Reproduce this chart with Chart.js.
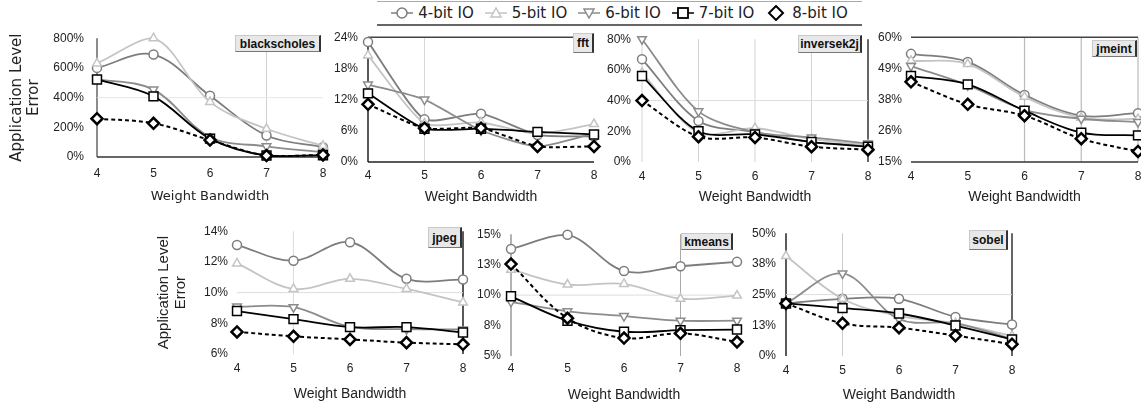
<!DOCTYPE html>
<html>
<head>
<meta charset="utf-8">
<script src="https://cdn.jsdelivr.net/npm/chart.js@4/dist/chart.umd.min.js"></script>
<style>
  html, body { margin: 0; padding: 0; background: #fff; width: 1141px; height: 408px; overflow: hidden; position: relative; }
  canvas { position: absolute; }
  .tag {
    position: absolute; box-sizing: border-box;
    font: bold 12px "Liberation Sans", Arial, sans-serif; color: #111;
    background: #e8e8e8; border: 1px solid #c8c8c8; border-right: 2px solid #333; border-bottom: 1px solid #777;
    display: flex; align-items: center; justify-content: center;
  }
  #legend {
    position: absolute; left: 377px; top: 1px; width: 485px; height: 22px;
    border-top: 1px solid #aaa; border-bottom: 2px solid #666;
    display: flex; align-items: center; justify-content: center; gap: 11px;
    font: 15px "DejaVu Sans", sans-serif; color: #222;
  }
  #legend span { display: flex; align-items: center; gap: 5px; }
</style>
</head>
<body>
<div id="legend"></div>
<script>
// x categories
const bandwidths = ['4', '5', '6', '7', '8'];
const seriesNames = ['4-bit IO', '5-bit IO', '6-bit IO', '7-bit IO', '8-bit IO'];

// application level error (%), one row per IO width (4..8 bit)
const blackscholes = [
  [600, 690, 412, 145, 66],
  [630, 800, 371, 190, 75],
  [525, 454, 134, 72, 31],
  [522, 408, 124, 10, 12],
  [258, 227, 114, 10, 14]
];
const fft = [
  [23.1, 8.2, 9.3, 5.2, 4.9],
  [20.5, 7.4, 7.6, 5.4, 7.3],
  [14.9, 12.0, 6.1, 3.0, 5.5],
  [13.2, 6.4, 6.4, 5.8, 5.3],
  [11.1, 6.5, 6.5, 3.0, 3.0]
];
const inversek2j = [
  [67, 26.7, 19.5, 13, 11],
  [58, 19, 22, 15, 11],
  [80, 33, 19.5, 16, 12],
  [56, 20, 18, 13, 10],
  [40, 16.5, 16, 10, 8]
];
const jmeint = [
  [54, 51.1, 39.2, 31.7, 32.6],
  [51.5, 50.3, 38.5, 31, 30.5],
  [49.6, 42.7, 33.8, 30.6, 29.4],
  [46, 43, 33.5, 25.6, 24.6],
  [43.9, 35.8, 31.7, 23.4, 18.8]
];
const jpeg = [
  [13.1, 12.08, 13.28, 10.9, 10.85],
  [11.9, 10.24, 10.9, 10.24, 9.36],
  [9.09, 9.05, 7.77, 7.62, 7.6],
  [8.8, 8.27, 7.75, 7.75, 7.4],
  [7.44, 7.15, 6.95, 6.74, 6.63]
];
const kmeans = [
  [13.79, 14.95, 11.98, 12.37, 12.73],
  [12.09, 10.87, 10.92, 9.7, 9.96],
  [9.45, 8.67, 8.28, 7.9, 7.9],
  [9.9, 7.9, 6.99, 7.12, 7.17],
  [12.55, 8.1, 6.47, 6.86, 6.16]
];
const sobel = [
  [21.4, 23.3, 23.3, 15.9, 12.8],
  [40.7, 23.3, 16.3, 13.3, 8.2],
  [21.4, 33.6, 15.0, 13.3, 6.9],
  [21.4, 19.5, 17.3, 12.4, 6.7],
  [21.4, 13.3, 11.5, 8.3, 4.8]
];

// y tick labels as printed
const blackscholesTicks = ['0%', '200%', '400%', '600%', '800%'];
const fftTicks = ['0%', '6%', '12%', '18%', '24%'];
const inversek2jTicks = ['0%', '20%', '40%', '60%', '80%'];
const jmeintTicks = ['15%', '26%', '38%', '49%', '60%'];
const jpegTicks = ['6%', '8%', '10%', '12%', '14%'];
const kmeansTicks = ['5%', '8%', '10%', '13%', '15%'];
const sobelTicks = ['0%', '13%', '25%', '38%', '50%'];

// series look
const seriesStyle = [
  { color: '#7d7d7d', point: 'circle', radius: 4.5, width: 1.8, pw: 1.5, rot: 0, dash: [] },
  { color: '#c4c4c4', point: 'triangle', radius: 5, width: 1.8, pw: 1.5, rot: 0, dash: [] },
  { color: '#8c8c8c', point: 'triangle', radius: 5, width: 1.8, pw: 1.5, rot: 180, dash: [] },
  { color: '#000000', point: 'rect', radius: 6.3, width: 1.8, pw: 1.5, rot: 0, dash: [] },
  { color: '#000000', point: 'rectRot', radius: 5.5, width: 2, pw: 2.5, rot: 0, dash: [4, 3] }
];

const PAD_TOP = 10, PAD_RIGHT = 14, X_H = 52;
const tickFont = { family: '"Liberation Sans", Arial, sans-serif', size: 12 };
const arial14 = { family: '"Liberation Sans", Arial, sans-serif', size: 14, lineHeight: 1.2 };

const panels = [
  { name: 'blackscholes', data: blackscholes, ticks: blackscholesTicks, plot: [97, 323, 28, 157],
    yW: 88, yPad: 13, xPad: 9, xGap: 40, tension: 0.35,
    xFont: { family: '"DejaVu Sans", sans-serif', size: 13, lineHeight: 1.2 },
    yTitle: { family: '"DejaVu Sans", sans-serif', size: 15, lineHeight: 1.1 },
    tag: [235, 35, 86, 17],
    frame: { v: [{ at: '4', c: '#666', w: 1.5 }, { at: '7', c: '#d0d0d0', w: 1 }],
             h: [{ at: 0, c: '#333', w: 1.5 }, { at: 400, c: '#e6e6e6', w: 1 }] } },
  { name: 'fft', data: fft, ticks: fftTicks, plot: [368, 594, 30, 162],
    yW: 60, yPad: 10, xPad: 6, xGap: 35, tension: 0.2, xFont: arial14,
    tag: [573, 33, 21, 20],
    frame: { v: [{ at: '4', c: '#222', w: 1.5 }, { at: '5', c: '#d8d8d8', w: 1 }],
             h: [{ at: 0, c: '#222', w: 1.5 }, { at: 24, c: '#444', w: 1.5 }] } },
  { name: 'inversek2j', data: inversek2j, ticks: inversek2jTicks, plot: [642, 868, 31, 162],
    yW: 60, yPad: 11, xPad: 7, xGap: 35, tension: 0.3, xFont: arial14,
    tag: [798, 35, 64, 18],
    frame: { v: [{ at: '4', c: '#d4d4d4', w: 1 }, { at: '5', c: '#d4d4d4', w: 1 }, { at: '6', c: '#d4d4d4', w: 1 },
                 { at: '7', c: '#d4d4d4', w: 1 }, { at: '8', c: '#333', w: 1.5 }],
             h: [{ at: 40, c: '#dcdcdc', w: 1 }] } },
  { name: 'jmeint', data: jmeint, ticks: jmeintTicks, plot: [911, 1138, 31, 162],
    yW: 60, yPad: 9, xPad: 7, xGap: 35, tension: 0.35, xFont: arial14,
    tag: [1092, 40, 45, 17],
    frame: { v: [{ at: '6', c: '#bbb', w: 1.2 }, { at: '7', c: '#bbb', w: 1.2 }, { at: '8', c: '#bbb', w: 1.2 }],
             h: [{ at: 60, c: '#444', w: 1.5 }, { at: 15, c: '#333', w: 1.5 }] } },
  { name: 'jpeg', data: jpeg, ticks: jpegTicks, plot: [237, 463, 225, 354],
    yW: 81, yPad: 9, xPad: 7, xGap: 40, tension: 0.35, xFont: arial14,
    yTitle: { family: '"Liberation Sans", Arial, sans-serif', size: 15, lineHeight: 1.1 },
    tag: [428, 227, 34, 21],
    frame: { v: [{ at: '5', c: '#ddd', w: 1 }, { at: '8', c: '#222', w: 1.5 }],
             h: [{ at: 10, c: '#ddd', w: 1 }] } },
  { name: 'kmeans', data: kmeans, ticks: kmeansTicks, plot: [511, 737, 227, 356],
    yW: 60, yPad: 10, xPad: 5, xGap: 39, tension: 0.35, xFont: arial14,
    tag: [681, 233, 52, 17],
    frame: { v: [{ at: '4', c: '#999', w: 1.5 }, { at: '7', c: '#aaa', w: 1 }],
             h: [{ at: 10, c: '#ddd', w: 1 }] } },
  { name: 'sobel', data: sobel, ticks: sobelTicks, plot: [786, 1012, 226, 356],
    yW: 60, yPad: 10, xPad: 7, xGap: 39, tension: 0.35, xFont: arial14,
    tag: [969, 230, 39, 20],
    frame: { v: [{ at: '4', c: '#222', w: 1.5 }, { at: '5', c: '#ccc', w: 1 }, { at: '8', c: '#333', w: 1.5 }],
             h: [{ at: 25, c: '#ddd', w: 1 }] } }
];

// odd Excel-style borders and grid lines, drawn under the series
const framePlugin = {
  id: 'frame',
  beforeDatasetsDraw(chart, args, opts) {
    const { ctx, chartArea: a, scales: { x, y } } = chart;
    ctx.save();
    (opts.v || []).forEach(l => {
      const px = x.getPixelForValue(bandwidths.indexOf(l.at));
      ctx.strokeStyle = l.c; ctx.lineWidth = l.w;
      ctx.beginPath(); ctx.moveTo(px, a.top); ctx.lineTo(px, a.bottom); ctx.stroke();
    });
    (opts.h || []).forEach(l => {
      const py = y.getPixelForValue(l.at);
      ctx.strokeStyle = l.c; ctx.lineWidth = l.w;
      ctx.beginPath(); ctx.moveTo(a.left, py); ctx.lineTo(a.right, py); ctx.stroke();
    });
    ctx.restore();
  }
};

function makePanel(p) {
  const [l, r, t, b] = p.plot;
  const canvas = document.createElement('canvas');
  const w = p.yW + (r - l) + PAD_RIGHT;
  const h = PAD_TOP + (b - t) + X_H;
  canvas.width = w; canvas.height = h;
  canvas.style.left = (l - p.yW) + 'px';
  canvas.style.top = (t - PAD_TOP) + 'px';
  canvas.style.width = w + 'px'; canvas.style.height = h + 'px';
  document.body.appendChild(canvas);

  const yMin = parseFloat(p.ticks[0]);
  const yMax = parseFloat(p.ticks[p.ticks.length - 1]);
  const xLh = p.xFont.size * p.xFont.lineHeight;

  new Chart(canvas, {
    type: 'line',
    data: {
      labels: bandwidths,
      datasets: p.data.map((vals, i) => {
        const s = seriesStyle[i];
        return {
          label: seriesNames[i],
          data: vals,
          borderColor: s.color,
          borderWidth: s.width,
          borderDash: s.dash,
          tension: p.tension,
          pointStyle: s.point,
          pointRadius: s.radius,
          pointRotation: s.rot,
          pointBorderWidth: s.pw,
          pointBorderColor: s.color,
          pointBackgroundColor: '#fff',
          clip: false,
          order: 4 - i
        };
      })
    },
    options: {
      responsive: false,
      animation: false,
      events: [],
      layout: { padding: { top: PAD_TOP, right: PAD_RIGHT, left: 0, bottom: 0 } },
      plugins: {
        legend: { display: false },
        tooltip: { enabled: false },
        frame: p.frame
      },
      scales: {
        x: {
          type: 'category',
          offset: false,
          grid: { display: false, drawTicks: false },
          border: { display: false },
          ticks: { padding: p.xPad, font: tickFont, color: '#222', maxRotation: 0 },
          title: {
            display: true, text: 'Weight Bandwidth', font: p.xFont, color: '#222',
            padding: { top: 0, bottom: X_H - p.xGap - xLh / 2 }
          },
          afterFit: s => { s.height = X_H; }
        },
        y: {
          min: yMin,
          max: yMax,
          grid: { display: false, drawTicks: false },
          border: { display: false },
          ticks: {
            stepSize: (yMax - yMin) / (p.ticks.length - 1),
            padding: p.yPad, font: tickFont, color: '#222',
            callback: (v, i) => p.ticks[i]
          },
          title: p.yTitle ? {
            display: true, text: ['Application Level', 'Error'], font: p.yTitle, color: '#222',
            padding: { top: 0, bottom: 0 }
          } : { display: false },
          afterFit: s => { s.width = p.yW; }
        }
      }
    },
    plugins: [framePlugin]
  });

  const tag = document.createElement('div');
  tag.className = 'tag';
  tag.textContent = p.name;
  tag.style.left = p.tag[0] + 'px';
  tag.style.top = p.tag[1] + 'px';
  tag.style.width = p.tag[2] + 'px';
  tag.style.height = p.tag[3] + 'px';
  document.body.appendChild(tag);
}

function legendMarker(s, i) {
  const c = s.color;
  let shape;
  if (s.point === 'circle') shape = `<circle cx="11" cy="8" r="5" fill="#fff" stroke="${c}" stroke-width="1.5"/>`;
  else if (s.point === 'triangle' && !s.rot) shape = `<polygon points="11,3 16,12 6,12" fill="#fff" stroke="${c}" stroke-width="1.5"/>`;
  else if (s.point === 'triangle') shape = `<polygon points="6,4 16,4 11,13" fill="#fff" stroke="${c}" stroke-width="1.5"/>`;
  else if (s.point === 'rect') shape = `<rect x="6" y="3" width="10" height="10" fill="#fff" stroke="${c}" stroke-width="1.8"/>`;
  else shape = `<polygon points="11,1 18,8 11,15 4,8" fill="#fff" stroke="${c}" stroke-width="2"/>`;
  const line = i < 4 ? `<line x1="0" y1="8" x2="22" y2="8" stroke="${c}" stroke-width="1.5"/>` : '';
  return `<svg width="22" height="16" viewBox="0 0 22 16">${line}${shape}</svg>`;
}

const legend = document.getElementById('legend');
seriesNames.forEach((name, i) => {
  const item = document.createElement('span');
  item.innerHTML = legendMarker(seriesStyle[i], i) + '<b style="font-weight:normal">' + name + '</b>';
  legend.appendChild(item);
});

panels.forEach(makePanel);
</script>
</body>
</html>
